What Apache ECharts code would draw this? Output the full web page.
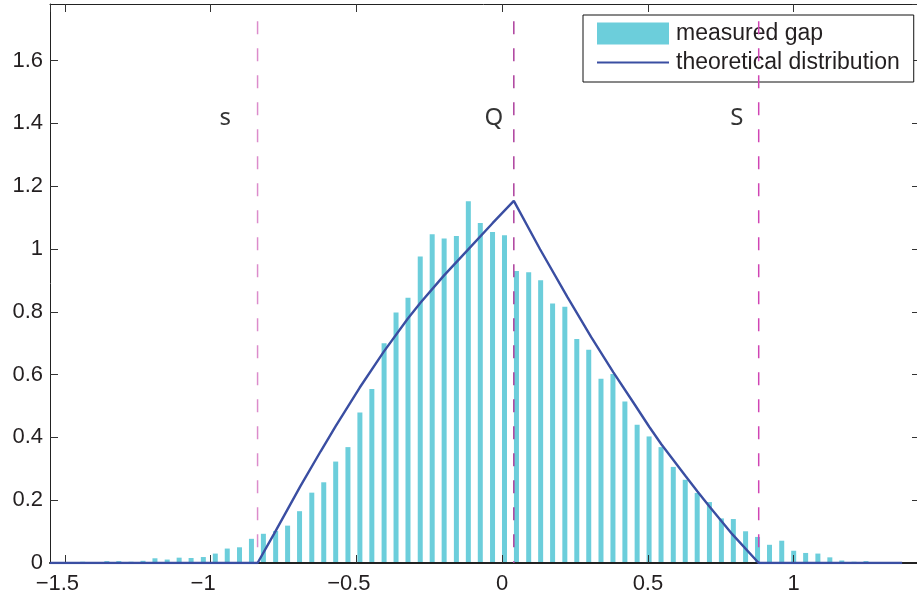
<!DOCTYPE html>
<html>
<head>
<meta charset="utf-8">
<title>measured gap vs theoretical distribution</title>
<script src="https://cdn.jsdelivr.net/npm/echarts@6/dist/echarts.min.js"></script>
<style>
  html, body { margin: 0; padding: 0; background: #ffffff; }
  #chart { width: 917px; height: 599px; }
</style>
</head>
<body>
<div id="chart"></div>
<script>
// Histogram bin centres and measured gap density
const binCenters = [
  -1.480, -1.439, -1.397, -1.356, -1.315, -1.273, -1.232, -1.191, -1.149, -1.108,
  -1.067, -1.025, -0.984, -0.943, -0.901, -0.860, -0.819, -0.777, -0.736, -0.695,
  -0.653, -0.612, -0.571, -0.529, -0.488, -0.447, -0.405, -0.364, -0.323, -0.281,
  -0.240, -0.199, -0.157, -0.116, -0.075, -0.033, 0.008, 0.049, 0.091, 0.132,
  0.173, 0.215, 0.256, 0.297, 0.339, 0.380, 0.421, 0.463, 0.504, 0.545,
  0.587, 0.628, 0.669, 0.711, 0.752, 0.793, 0.835, 0.876, 0.917, 0.959,
  1.000, 1.041, 1.083, 1.124, 1.165, 1.207, 1.248, 1.289, 1.331, 1.372
];
const gapDensity = [
  0.003, 0.004, 0.003, 0.006, 0.006, 0.004, 0.007, 0.015, 0.011, 0.017,
  0.016, 0.019, 0.030, 0.046, 0.050, 0.077, 0.093, 0.102, 0.119, 0.165,
  0.224, 0.257, 0.323, 0.369, 0.479, 0.554, 0.700, 0.798, 0.845, 0.976,
  1.047, 1.033, 1.041, 1.152, 1.083, 1.054, 1.044, 0.930, 0.926, 0.900,
  0.826, 0.816, 0.713, 0.679, 0.587, 0.602, 0.514, 0.440, 0.403, 0.369,
  0.306, 0.265, 0.223, 0.194, 0.142, 0.140, 0.101, 0.083, 0.058, 0.071,
  0.039, 0.032, 0.030, 0.018, 0.008, 0.004, 0.006, 0.002, 0.002, 0.001
];

// Theoretical density curve
const theoryX = [
  -1.551, -0.839, -0.783, -0.692, -0.623, -0.571, -0.489, -0.406, -0.324, -0.281,
  -0.200, -0.117, -0.033, 0.040, 0.130, 0.223, 0.305, 0.381, 0.450, 0.505,
  0.546, 0.629, 0.670, 0.711, 0.790, 0.880, 1.372
];
const theoryY = [
  0, 0, 0.092, 0.245, 0.355, 0.436, 0.558, 0.673, 0.778, 0.828,
  0.915, 0.998, 1.082, 1.153, 0.999, 0.848, 0.720, 0.608, 0.511, 0.433,
  0.378, 0.277, 0.228, 0.180, 0.091, 0, 0
];

// Reference levels s, Q, S
const markerNames = ['s', 'Q', 'S'];
const markerX = [-0.839, 0.040, 0.880];
const markerColors = ['#dc8ccb', '#ad3f9d', '#d044b4'];
const markerLabelX = [-0.950, -0.028, 0.805];
const markerLabelY = 1.418;
const markerTop = 1.725;

// Axis ranges
const xRange = [-1.551, 1.423];
const yRange = [0, 1.78];
const yStep = 0.2;

const axisColor = '#222222';
const tickFont = { fontFamily: 'Liberation Sans', fontSize: 22, color: '#231f20' };

const chart = echarts.init(document.getElementById('chart'), null, { renderer: 'canvas' });

// negative tick labels sit slightly left of their tick
const fmtX = v => {
  const s = String(Math.round(v * 10) / 10);
  return v < 0 ? '{neg|' + s.replace('-', '\u2212') + '}' : s;
};
const fmtY = v => String(Math.round(v * 10) / 10);

const markerSeries = markerX.map((x, i) => ({
  type: 'line',
  name: 'marker-' + markerNames[i],
  data: [[x, markerTop], [x, 0]],
  symbol: 'none',
  silent: true,
  z: 4,
  lineStyle: { color: markerColors[i], width: 1.5, type: [13, 14] }
}));

chart.setOption({
  animation: false,
  backgroundColor: '#ffffff',
  grid: { left: 50, right: 0, top: 4, bottom: 36, containLabel: false },
  legend: {
    data: [
      { name: 'measured gap', icon: 'rect' },
      { name: 'theoretical distribution', itemStyle: { opacity: 0 } }
    ],
    orient: 'vertical',
    left: 583,
    top: 15,
    itemWidth: 72,
    itemHeight: 22,
    itemGap: 6,
    padding: [7, 14, 8, 13],
    borderColor: '#111111',
    borderWidth: 1,
    backgroundColor: '#ffffff',
    selectedMode: false,
    textStyle: { fontFamily: 'Liberation Sans', fontSize: 23, color: '#231f20', padding: [0, 0, 0, 2] }
  },
  xAxis: [
    {
      type: 'value', position: 'bottom', min: xRange[0], max: xRange[1],
      z: 3,
      axisLine: { show: true, onZero: false, lineStyle: { color: axisColor, width: 2.2 } },
      axisTick: { show: true, inside: true, length: 8, lineStyle: { color: '#333', width: 1 } },
      axisLabel: Object.assign({
        margin: 10, showMinLabel: false, showMaxLabel: false, formatter: fmtX,
        rich: { neg: { fontFamily: 'Liberation Sans', fontSize: 22, color: '#231f20', padding: [0, 15, 0, 0] } }
      }, tickFont),
      splitLine: { show: false }
    },
    {
      type: 'value', position: 'top', min: xRange[0], max: xRange[1],
      axisLine: { show: true, onZero: false, lineStyle: { color: axisColor, width: 1 } },
      axisTick: { show: true, inside: true, length: 8, lineStyle: { color: '#333', width: 1 } },
      axisLabel: { show: false },
      splitLine: { show: false }
    }
  ],
  yAxis: [
    {
      type: 'value', position: 'left', min: yRange[0], max: yRange[1], interval: yStep,
      axisLine: { show: true, onZero: false, lineStyle: { color: axisColor, width: 1 } },
      axisTick: { show: true, inside: true, length: 8, lineStyle: { color: '#333', width: 1 } },
      axisLabel: Object.assign({ margin: 7, showMaxLabel: false, formatter: fmtY }, tickFont),
      splitLine: { show: false }
    },
    {
      type: 'value', position: 'right', min: yRange[0], max: yRange[1], interval: yStep,
      axisLine: { show: true, onZero: false, lineStyle: { color: axisColor, width: 1 } },
      axisTick: { show: true, inside: true, length: 5, lineStyle: { color: '#333', width: 1 } },
      axisLabel: { show: false },
      splitLine: { show: false }
    }
  ],
  series: [
    {
      type: 'bar',
      name: 'measured gap',
      data: binCenters.map((x, i) => [x, gapDensity[i]]),
      barWidth: 5,
      itemStyle: { color: '#6ccedb' },
      z: 2
    },
    ...markerSeries,
    {
      type: 'line',
      name: 'theoretical distribution',
      data: theoryX.map((x, i) => [x, theoryY[i]]),
      symbol: 'none',
      z: 6,
      itemStyle: { color: '#3a4ea2' },
      lineStyle: { color: '#3a4ea2', width: 2.4 }
    },
    {
      type: 'scatter',
      name: 'marker-labels',
      silent: true,
      symbolSize: 0,
      z: 7,
      data: markerNames.map((n, i) => ({ name: n, value: [markerLabelX[i], markerLabelY] })),
      label: {
        show: true,
        position: 'inside',
        formatter: '{b}',
        fontFamily: 'Noto Sans',
        fontSize: 24,
        color: '#000000'
      }
    }
  ]
});
</script>
</body>
</html>
